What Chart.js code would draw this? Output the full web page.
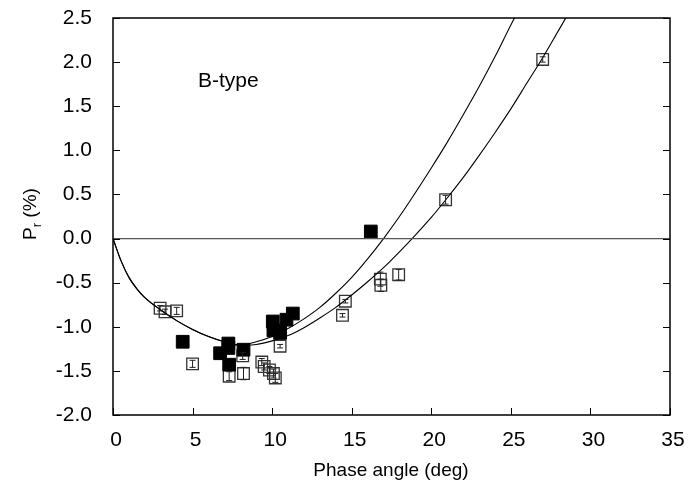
<!DOCTYPE html>
<html>
<head>
<meta charset="utf-8">
<script src="https://cdn.jsdelivr.net/npm/chart.js@4/dist/chart.umd.min.js"></script>
<style>
  body { margin: 0; background: #fff; }
  canvas { display: block; }
</style>
</head>
<body>
<canvas id="polChart" width="689" height="481"></canvas>
<script>
// open squares (with error bars)
const openAngle = [2.96, 3.27, 4.0, 5.0, 7.3, 8.2, 8.15, 9.35, 9.5, 9.83, 10.08, 10.2, 10.5, 14.6, 14.42, 16.8, 16.83, 17.95, 20.9, 27.0];
const openPol   = [-0.79, -0.83, -0.82, -1.42, -1.56, -1.53, -1.33, -1.40, -1.45, -1.49, -1.53, -1.58, -1.22, -0.71, -0.87, -0.46, -0.53, -0.41, 0.44, 2.03];
const openErr   = [0.03, 0.03, 0.04, 0.04, 0.05, 0.07, 0.04, 0.04, 0.04, 0.04, 0.05, 0.05, 0.02, 0.02, 0.02, 0.08, 0.07, 0.06, 0.05, 0.03];

// filled squares
const filledAngle = [4.38, 6.73, 7.25, 7.25, 7.3, 8.2, 10.04, 10.08, 10.5, 10.9, 11.3, 16.2];
const filledPol   = [-1.17, -1.30, -1.19, -1.24, -1.43, -1.26, -0.94, -1.04, -1.07, -0.92, -0.85, 0.08];

// fitted phase curves (common branch, then two branches)
const fitBaseAngle = [0, 0.5, 1, 1.5, 2, 3, 4, 5, 6, 7];
const fitBasePol   = [0, -0.25, -0.44, -0.57, -0.67, -0.81, -0.93, -1.03, -1.11, -1.17];
const fitAAngle = [8, 9, 10, 11, 12, 13, 14, 15, 16, 17, 18, 19, 20, 21, 22, 23, 24, 25, 25.23];
const fitAPol   = [-1.21, -1.17, -1.11, -1.02, -0.91, -0.78, -0.62, -0.44, -0.23, 0.0, 0.25, 0.52, 0.80, 1.09, 1.40, 1.72, 2.06, 2.42, 2.5];
const fitBAngle = [8, 9, 10, 11, 12, 13, 14, 15, 16, 17, 18, 19, 20, 21, 22, 23, 24, 25, 26, 27, 28, 28.45];
const fitBPol   = [-1.21, -1.20, -1.16, -1.10, -1.01, -0.90, -0.78, -0.64, -0.49, -0.33, -0.15, 0.04, 0.24, 0.46, 0.69, 0.94, 1.20, 1.47, 1.76, 2.05, 2.36, 2.5];

const xTicks = [0, 5, 10, 15, 20, 25, 30, 35];
const yTicks = [-2.0, -1.5, -1.0, -0.5, 0.0, 0.5, 1.0, 1.5, 2.0, 2.5];

function pts(xs, ys) {
  return xs.map((x, i) => ({ x: x, y: ys[i] }));
}

const FONT = "'Liberation Sans', Arial, Helvetica, sans-serif";

// frame, inward ticks, titles, label
const framePlugin = {
  id: "frame",
  afterDraw(chart) {
    const ctx = chart.ctx;
    const a = chart.chartArea;
    const xs = chart.scales.x, ys = chart.scales.y;
    ctx.save();
    ctx.strokeStyle = "#000";
    ctx.lineWidth = 1.5;
    ctx.strokeRect(a.left, a.top, a.right - a.left, a.bottom - a.top);
    ctx.lineWidth = 1;
    ctx.beginPath();
    yTicks.forEach(v => {
      const py = Math.round(ys.getPixelForValue(v)) + 0.5;
      ctx.moveTo(a.left, py); ctx.lineTo(a.left + 7, py);
      ctx.moveTo(a.right, py); ctx.lineTo(a.right - 7, py);
    });
    xTicks.forEach(v => {
      const px = Math.round(xs.getPixelForValue(v)) + 0.5;
      ctx.moveTo(px, a.bottom); ctx.lineTo(px, a.bottom - 7);
    });
    ctx.stroke();

    ctx.fillStyle = "#000";
    ctx.font = "19px " + FONT;
    ctx.textAlign = "center";
    ctx.textBaseline = "middle";
    ctx.fillText("Phase angle (deg)", 391, 471);

    // y title with subscript
    ctx.translate(36, 214);
    ctx.rotate(-Math.PI / 2);
    ctx.textAlign = "left";
    ctx.textBaseline = "alphabetic";
    const wP = ctx.measureText("P").width;
    ctx.font = "13px " + FONT;
    const wR = ctx.measureText("r").width;
    ctx.font = "19px " + FONT;
    const wRest = ctx.measureText(" (%)").width;
    const total = wP + wR + wRest;
    const x0 = -total / 2;
    ctx.fillText("P", x0, 0);
    ctx.font = "13px " + FONT;
    ctx.fillText("r", x0 + wP, 5);
    ctx.font = "19px " + FONT;
    ctx.fillText(" (%)", x0 + wP + wR, 0);
    ctx.restore();

    ctx.save();
    ctx.fillStyle = "#000";
    ctx.font = "21px " + FONT;
    ctx.textBaseline = "alphabetic";
    ctx.fillText("B-type", 198, 87);
    ctx.restore();
  }
};

// small I-shaped error bars inside the open squares
const errorBarPlugin = {
  id: "errorBars",
  afterDatasetsDraw(chart) {
    const ctx = chart.ctx;
    const xs = chart.scales.x, ys = chart.scales.y;
    ctx.save();
    ctx.strokeStyle = "#222";
    ctx.lineWidth = 1;
    ctx.beginPath();
    openAngle.forEach((ang, i) => {
      const px = xs.getPixelForValue(ang);
      const top = ys.getPixelForValue(openPol[i] + openErr[i]);
      const bot = ys.getPixelForValue(openPol[i] - openErr[i]);
      ctx.moveTo(px, top); ctx.lineTo(px, bot);
      ctx.moveTo(px - 3, top); ctx.lineTo(px + 3, top);
      ctx.moveTo(px - 3, bot); ctx.lineTo(px + 3, bot);
    });
    ctx.stroke();
    ctx.restore();
  }
};

new Chart(document.getElementById("polChart"), {
  type: "scatter",
  data: {
    datasets: [
      {
        type: "line",
        data: [{ x: 0, y: 0 }, { x: 35, y: 0 }],
        borderColor: "#555",
        borderWidth: 1.2,
        pointRadius: 0
      },
      {
        type: "line",
        data: pts(fitBaseAngle.concat(fitAAngle), fitBasePol.concat(fitAPol)),
        borderColor: "#000",
        borderWidth: 1.1,
        pointRadius: 0,
        cubicInterpolationMode: "monotone"
      },
      {
        type: "line",
        data: pts(fitBaseAngle.concat(fitBAngle), fitBasePol.concat(fitBPol)),
        borderColor: "#000",
        borderWidth: 1.1,
        pointRadius: 0,
        cubicInterpolationMode: "monotone"
      },
      {
        data: pts(filledAngle, filledPol),
        pointStyle: "rect",
        pointRadius: 9,
        backgroundColor: "#000",
        borderColor: "#000",
        borderWidth: 1
      },
      {
        data: pts(openAngle, openPol),
        pointStyle: "rect",
        pointRadius: 8.2,
        backgroundColor: "rgba(255,255,255,0)",
        borderColor: "#333",
        borderWidth: 1.3
      }
    ]
  },
  options: {
    responsive: false,
    devicePixelRatio: 1,
    animation: false,
    events: [],
    layout: { padding: { top: 18, right: 19, left: 0, bottom: 0 } },
    plugins: { legend: { display: false }, tooltip: { enabled: false } },
    scales: {
      x: {
        type: "linear",
        min: 0, max: 35,
        afterBuildTicks: s => { s.ticks = xTicks.map(v => ({ value: v })); },
        afterFit: s => { s.height = 66; s.paddingLeft = 0; s.paddingRight = 0; },
        grid: { display: false },
        border: { display: false },
        ticks: { color: "#000", font: { size: 21, family: FONT }, padding: 5, labelOffset: 3, maxRotation: 0 }
      },
      y: {
        type: "linear",
        min: -2, max: 2.5,
        afterBuildTicks: s => { s.ticks = yTicks.map(v => ({ value: v })); },
        afterFit: s => { s.width = 113; s.paddingTop = 0; s.paddingBottom = 0; },
        grid: { display: false },
        border: { display: false },
        ticks: { color: "#000", font: { size: 21, family: FONT }, padding: 13, callback: v => v.toFixed(1) }
      }
    }
  },
  plugins: [framePlugin, errorBarPlugin]
});
</script>
</body>
</html>
